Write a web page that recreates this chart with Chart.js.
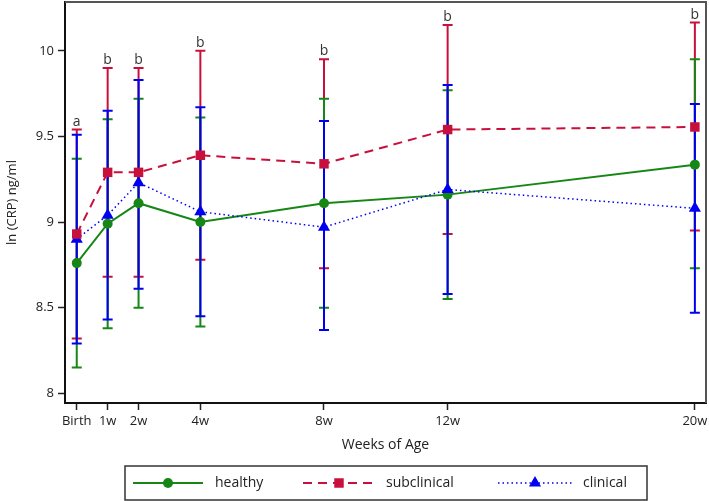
<!DOCTYPE html>
<html>
<head>
<meta charset="utf-8">
<script src="https://cdn.jsdelivr.net/npm/chart.js@4"></script>
<style>
    body { margin: 0; background: #fff; }
</style>
</head>
<body>
<canvas id="crpChart" width="709" height="501"></canvas>
<script>
const weeks = [0, 1, 2, 4, 8, 12, 20];
const weekLabels = ['Birth', '1w', '2w', '4w', '8w', '12w', '20w'];
const yTicks = [8, 8.5, 9, 9.5, 10];

const healthyMean = [8.76, 8.99, 9.11, 9.00, 9.11, 9.16, 9.335];
const healthyLow  = [8.15, 8.38, 8.50, 8.39, 8.50, 8.55, 8.73];
const healthyHigh = [9.37, 9.60, 9.72, 9.61, 9.72, 9.77, 9.95];

const subclinicalMean = [8.93, 9.29, 9.29, 9.39, 9.34, 9.54, 9.555];
const subclinicalLow  = [8.32, 8.68, 8.68, 8.78, 8.73, 8.93, 8.95];
const subclinicalHigh = [9.54, 9.90, 9.90, 10.0, 9.95, 10.15, 10.165];

const clinicalMean = [8.90, 9.04, 9.23, 9.06, 8.97, 9.19, 9.08];
const clinicalLow  = [8.29, 8.43, 8.61, 8.45, 8.37, 8.58, 8.47];
const clinicalHigh = [9.51, 9.65, 9.83, 9.67, 9.59, 9.80, 9.69];

const sigLetters = ['a', 'b', 'b', 'b', 'b', 'b', 'b'];

const GREEN = '#168716';
const RED = '#c8103c';
const BLUE = '#0000f0';
const FONT = '"Open Sans", "Noto Sans", sans-serif';

function toPoints(means) {
    return weeks.map((w, i) => ({ x: w, y: means[i] }));
}

// error bars drawn under the lines, red first so blue ends up on top
const errorBars = {
    id: 'errorBars',
    beforeDatasetsDraw(chart) {
        const ctx = chart.ctx;
        const xs = chart.scales.x;
        const ys = chart.scales.y;
        const groups = [
            { low: subclinicalLow, high: subclinicalHigh, color: RED },
            { low: healthyLow, high: healthyHigh, color: GREEN },
            { low: clinicalLow, high: clinicalHigh, color: BLUE }
        ];
        ctx.save();
        ctx.lineWidth = 2;
        groups.forEach(g => {
            ctx.strokeStyle = g.color;
            weeks.forEach((w, i) => {
                const x = xs.getPixelForValue(w);
                const y1 = ys.getPixelForValue(g.low[i]);
                const y2 = ys.getPixelForValue(g.high[i]);
                ctx.beginPath();
                ctx.moveTo(x, y1);
                ctx.lineTo(x, y2);
                ctx.moveTo(x - 5, y1);
                ctx.lineTo(x + 5, y1);
                ctx.moveTo(x - 5, y2);
                ctx.lineTo(x + 5, y2);
                ctx.stroke();
            });
        });
        // significance letters above the highest bar
        ctx.fillStyle = '#333';
        ctx.font = '14px ' + FONT;
        ctx.textAlign = 'center';
        ctx.textBaseline = 'bottom';
        weeks.forEach((w, i) => {
            const top = Math.max(subclinicalHigh[i], healthyHigh[i], clinicalHigh[i]);
            ctx.fillText(sigLetters[i], xs.getPixelForValue(w), ys.getPixelForValue(top) - 1);
        });
        ctx.restore();
    }
};

// gray frame on top/right plus the legend box at the bottom
const frameAndLegend = {
    id: 'frameAndLegend',
    afterDraw(chart) {
        const ctx = chart.ctx;
        const a = chart.chartArea;
        ctx.save();
        ctx.strokeStyle = '#555';
        ctx.lineWidth = 2;
        ctx.beginPath();
        ctx.moveTo(a.left, a.top);
        ctx.lineTo(a.right, a.top);
        ctx.lineTo(a.right, a.bottom);
        ctx.stroke();

        ctx.strokeStyle = '#333';
        ctx.lineWidth = 1.5;
        ctx.strokeRect(125, 466, 522, 34);

        const items = [
            { ds: chart.data.datasets[0], x0: 133, x1: 203, text: 'healthy', tx: 215 },
            { ds: chart.data.datasets[1], x0: 303, x1: 375, text: 'subclinical', tx: 386 },
            { ds: chart.data.datasets[2], x0: 498, x1: 572, text: 'clinical', tx: 583 }
        ];
        const ly = 483;
        items.forEach(it => {
            const ds = it.ds;
            ctx.strokeStyle = ds.borderColor;
            ctx.lineWidth = ds.borderWidth;
            ctx.setLineDash(ds.borderDash || []);
            ctx.beginPath();
            ctx.moveTo(it.x0, ly);
            ctx.lineTo(it.x1, ly);
            ctx.stroke();
            ctx.setLineDash([]);
            ctx.fillStyle = ds.pointBackgroundColor;
            ctx.strokeStyle = ds.pointBorderColor;
            Chart.helpers.drawPoint(ctx, {
                pointStyle: ds.pointStyle,
                radius: ds.pointRadius,
                borderWidth: 0,
                rotation: 0
            }, (it.x0 + it.x1) / 2, ly);
            ctx.fillStyle = '#222';
            ctx.font = '14px ' + FONT;
            ctx.textAlign = 'left';
            ctx.textBaseline = 'middle';
            ctx.fillText(it.text, it.tx, ly);
        });
        ctx.restore();
    }
};

const ctx = document.getElementById('crpChart').getContext('2d');
new Chart(ctx, {
    type: 'line',
    data: {
        datasets: [
            {
                label: 'healthy',
                data: toPoints(healthyMean),
                borderColor: GREEN,
                borderWidth: 2,
                pointStyle: 'circle',
                pointRadius: 5,
                pointBackgroundColor: GREEN,
                pointBorderColor: GREEN,
                pointBorderWidth: 0,
                tension: 0,
                order: 3
            },
            {
                label: 'subclinical',
                data: toPoints(subclinicalMean),
                borderColor: RED,
                borderWidth: 2,
                borderDash: [9, 6],
                pointStyle: 'rect',
                pointRadius: 6.7,
                pointBackgroundColor: RED,
                pointBorderColor: RED,
                pointBorderWidth: 0,
                tension: 0,
                order: 1
            },
            {
                label: 'clinical',
                data: toPoints(clinicalMean),
                borderColor: BLUE,
                borderWidth: 1.5,
                borderDash: [1.5, 3],
                pointStyle: 'triangle',
                pointRadius: 7,
                pointBackgroundColor: BLUE,
                pointBorderColor: BLUE,
                pointBorderWidth: 0,
                tension: 0,
                order: 2
            }
        ]
    },
    options: {
        responsive: false,
        animation: false,
        layout: {
            autoPadding: false,
            padding: { left: 0, top: 2, right: 3, bottom: 39 }
        },
        plugins: {
            legend: { display: false },
            tooltip: { enabled: false }
        },
        scales: {
            x: {
                type: 'linear',
                min: -0.38,
                max: 20.36,
                afterBuildTicks: scale => {
                    scale.ticks = weeks.map(w => ({ value: w }));
                },
                afterFit: scale => {
                    scale.height = 59;
                    scale.paddingLeft = 0;
                    scale.paddingRight = 0;
                },
                grid: {
                    drawOnChartArea: false,
                    tickLength: 7,
                    tickColor: '#222',
                    tickWidth: 1.5
                },
                border: { color: '#111', width: 2 },
                ticks: {
                    padding: 3,
                    maxRotation: 0,
                    autoSkip: false,
                    color: '#222',
                    font: { family: FONT, size: 13 },
                    callback: value => weekLabels[weeks.indexOf(value)]
                },
                title: {
                    display: true,
                    text: 'Weeks of Age',
                    color: '#222',
                    font: { family: FONT, size: 14 },
                    padding: { top: 0, bottom: 9 }
                }
            },
            y: {
                min: 7.943,
                max: 10.285,
                afterBuildTicks: scale => {
                    scale.ticks = yTicks.map(v => ({ value: v }));
                },
                afterFit: scale => {
                    scale.width = 65;
                    scale.paddingTop = 0;
                    scale.paddingBottom = 0;
                },
                grid: {
                    drawOnChartArea: false,
                    tickLength: 7,
                    tickColor: '#222',
                    tickWidth: 1.5
                },
                border: { color: '#111', width: 2 },
                ticks: {
                    padding: 4,
                    color: '#222',
                    font: { family: FONT, size: 13 },
                    callback: value => String(value)
                },
                title: {
                    display: true,
                    text: 'ln (CRP) ng/ml',
                    color: '#222',
                    font: { family: FONT, size: 13 },
                    padding: { top: 4, bottom: 0 }
                }
            }
        }
    },
    plugins: [errorBars, frameAndLegend]
});
</script>
</body>
</html>
